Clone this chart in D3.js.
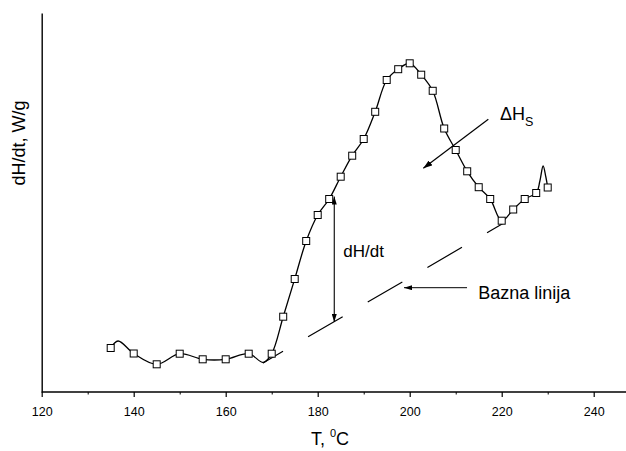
<!DOCTYPE html>
<html>
<head>
<meta charset="utf-8">
<script src="https://cdn.jsdelivr.net/npm/d3@7"></script>
<style>
  html, body { margin: 0; padding: 0; background: #fff; }
  svg { display: block; }
  text { font-family: "Liberation Sans", Arial, Helvetica, sans-serif; fill: #000; }
</style>
</head>
<body>
<svg id="chart" width="626" height="451"></svg>
<script>
// ---- data (y in arbitrary W/g units) ----
const markerT = [135,140,145,150,155,160,165,170,172.5,175,177.5,180,182.5,185,187.5,190,192.5,195,197.5,200,202.5,205,207.5,210,212.5,215,217.5,220,222.5,225,227.5,230];
const markerV = [4.4,3.85,2.77,3.83,3.27,3.27,3.83,3.83,7.53,11.3,15.1,17.7,19.3,21.53,23.63,25.3,28.02,31.2,32.28,32.87,31.73,30.12,26.35,24.2,22.07,20.48,19.3,17.13,18.25,19.3,19.9,20.45];
// extra curve points (line only, no marker)
const extraT = [136.6, 168.2, 228.3, 229.0, 229.6];
const extraV = [5.1, 2.95, 21.1, 22.6, 21.5];
// baseline (Bazna linija)
const baseT = [168.1, 220.35];
const baseV = [2.9, 16.87];
// axis ticks
const majorTicks = [120,140,160,180,200,220,240];
const minorTicks = [130,150,170,190,210,230];
// annotations
const dhdtArrowT = [183.6, 183.6], dhdtArrowV = [19.55, 7.0];
const dhdtLabel = {text: "dH/dt", t: 185.57, v: 13.53};
const baznaArrowT = [212.46, 198.76], baznaArrowV = [10.43, 10.43];
const baznaLabel = {text: "Bazna linija", t: 214.9, v: 9.27};
const dhsArrowT = [217.09, 202.96], dhsArrowV = [27.27, 22.37];
const dhsLabel = {text: "ΔH", sub: "S", t: 219.63, v: 27.2};

const svg = d3.select("#chart");
const x = d3.scaleLinear().domain([120, 247.02]).range([41.7, 626]);
const y = d3.scaleLinear().domain([0, 37.9]).range([392, 13]);

// arrow markers
const defs = svg.append("defs");
function arrowDef(id, len, wid) {
  defs.append("marker").attr("id", id)
    .attr("viewBox", `0 0 ${len} ${wid}`).attr("refX", len).attr("refY", wid/2)
    .attr("markerWidth", len).attr("markerHeight", wid).attr("markerUnits", "userSpaceOnUse")
    .attr("orient", "auto-start-reverse")
    .append("path").attr("d", `M0,0L${len},${wid/2}L0,${wid}Z`).attr("fill", "#000");
}
arrowDef("ah", 8, 5);
arrowDef("ahBig", 9, 6);

// axes
const xMajor = d3.axisBottom(x).tickValues(majorTicks).tickSize(5).tickPadding(10).tickFormat(d3.format("d"));
const gx = svg.append("g").attr("transform", `translate(0,${y(0)})`).call(xMajor);
gx.select(".domain").attr("stroke-width", 1.3).attr("d", `M${x.range()[0]},0H${x.range()[1]}`);
gx.selectAll(".tick line").attr("stroke-width", 1.2);
gx.selectAll(".tick text").style("font-size", "12.5px").style("font-family", '"Liberation Sans", Arial, sans-serif');
const xMinor = d3.axisBottom(x).tickValues(minorTicks).tickSize(2.5).tickFormat("");
const gxm = svg.append("g").attr("transform", `translate(0,${y(0)})`).call(xMinor);
gxm.select(".domain").remove();

const yAxis = d3.axisLeft(y).tickValues([]).tickSize(0);
const gy = svg.append("g").attr("transform", `translate(${x(120)},0)`).call(yAxis);
gy.select(".domain").attr("stroke-width", 1.4);

// axis titles
svg.append("text").attr("transform", `translate(25,143) rotate(-90)`)
  .attr("text-anchor", "middle").style("font-size", "18px").text("dH/dt, W/g");
const xt = svg.append("text").attr("x", 330).attr("y", 445).attr("text-anchor", "middle").style("font-size", "18px");
xt.append("tspan").text("T, ");
xt.append("tspan").attr("dy", -8).style("font-size", "11px").text("0");
xt.append("tspan").attr("dy", 8).text("C");

// baseline (long dashes)
const baseData = baseT.map((t, i) => [t, baseV[i]]);
svg.append("path").datum(baseData)
  .attr("d", d3.line().x(d => x(d[0])).y(d => y(d[1])))
  .attr("fill", "none").attr("stroke", "#000").attr("stroke-width", 1.2)
  .attr("stroke-dasharray", "40 29").attr("stroke-dashoffset", 16.8);

// curve
const curveData = markerT.map((t, i) => [t, markerV[i]])
  .concat(extraT.map((t, i) => [t, extraV[i]]))
  .sort((a, b) => a[0] - b[0]);
svg.append("path").datum(curveData)
  .attr("d", d3.line().x(d => x(d[0])).y(d => y(d[1])).curve(d3.curveCatmullRom.alpha(0.5)))
  .attr("fill", "none").attr("stroke", "#000").attr("stroke-width", 1.3);

// markers
const s = 7;
svg.append("g").selectAll("rect").data(markerT.map((t, i) => [t, markerV[i]])).join("rect")
  .attr("x", d => x(d[0]) - s/2).attr("y", d => y(d[1]) - s/2)
  .attr("width", s).attr("height", s)
  .attr("fill", "#fff").attr("stroke", "#000").attr("stroke-width", 1);

// annotations
function arrowLine(ts, vs, both, mk, w) {
  const p = svg.append("line")
    .attr("x1", x(ts[0])).attr("y1", y(vs[0])).attr("x2", x(ts[1])).attr("y2", y(vs[1]))
    .attr("stroke", "#000").attr("stroke-width", w)
    .attr("marker-end", `url(#${mk})`);
  if (both) p.attr("marker-start", `url(#${mk})`);
}
arrowLine(dhdtArrowT, dhdtArrowV, true, "ah", 1.1);
arrowLine(baznaArrowT, baznaArrowV, false, "ah", 1.0);
arrowLine(dhsArrowT, dhsArrowV, false, "ahBig", 1.2);

svg.append("text").attr("x", x(dhdtLabel.t)).attr("y", y(dhdtLabel.v)).style("font-size", "17px").text(dhdtLabel.text);
svg.append("text").attr("x", x(baznaLabel.t)).attr("y", y(baznaLabel.v)).style("font-size", "18px").text(baznaLabel.text);
const dh = svg.append("text").attr("x", x(dhsLabel.t)).attr("y", y(dhsLabel.v)).style("font-size", "18px");
dh.append("tspan").text(dhsLabel.text);
dh.append("tspan").attr("dy", 5.5).style("font-size", "12.5px").text(dhsLabel.sub);
</script>
</body>
</html>
